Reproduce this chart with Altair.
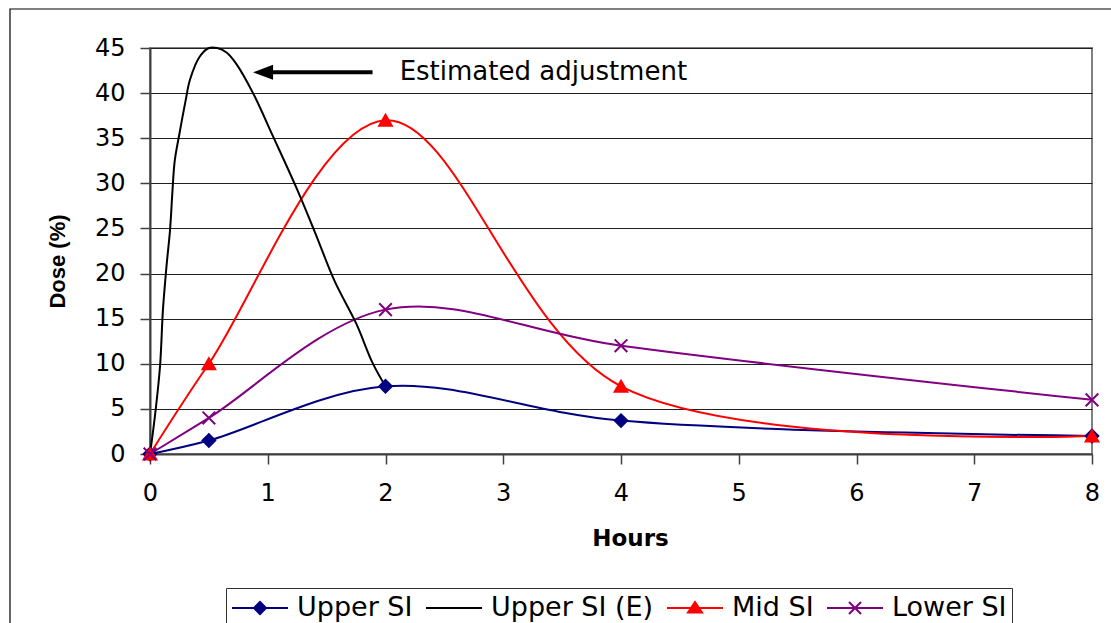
import altair as alt
import pandas as pd

# ---------------- data ----------------
hours = [0, 0.5, 2, 4, 8]
upper_si = [0, 1.5, 7.5, 3.7, 2.0]
mid_si = [0, 10, 37, 7.5, 2.0]
lower_si = [0, 4, 16, 12, 6]

est_hours = [0, 0.04, 0.085, 0.11, 0.14, 0.17, 0.19, 0.21, 0.25, 0.3, 0.34, 0.42,
             0.5, 0.57, 0.65, 0.73, 0.875, 1.045, 1.24, 1.4, 1.57, 1.75, 1.89, 2.0]
est_dose = [0, 4, 9.7, 16, 20.8, 24.8, 29, 32.5, 35.5, 39, 41.5, 44,
            45, 45, 44.5, 43.3, 40, 35.2, 29.6, 24.6, 19.1, 14.5, 10.1, 7.5]

series_names = ["Upper SI", "Upper SI (E)", "Mid SI", "Lower SI"]
series_colors = ["#000080", "#000000", "#FF0000", "#800080"]

marker_series = ["Upper SI", "Mid SI", "Lower SI"]
marker_colors = ["#000080", "#FF0000", "#800080"]
marker_shapes = ["diamond", "triangle-up", "M-1,-1L1,1M-1,1L1,-1"]

legend_shapes = [
    "M-1,0L3,0M0.57,0L1,-0.43L1.43,0L1,0.43Z",
    "M-1,0L3,0",
    "M-1,0L3,0M0.5,0.33L1,-0.43L1.5,0.33Z",
    "M-1,0L3,0M0.57,-0.43L1.43,0.43M0.57,0.43L1.43,-0.43",
]

x_ticks = [0, 1, 2, 3, 4, 5, 6, 7, 8]
y_ticks = [0, 5, 10, 15, 20, 25, 30, 35, 40, 45]

ann_text = ["Estimated adjustment"]
ann_arrow_from = [1.89]
ann_arrow_to = [0.96]
ann_y = [42.3]
ann_text_x = [2.12]

# ---------------- tables ----------------
rows = []
for name, vals in [("Upper SI", upper_si), ("Mid SI", mid_si), ("Lower SI", lower_si)]:
    for h, v in zip(hours, vals):
        rows.append({"series": name, "hours": h, "dose": v})
main_df = pd.DataFrame(rows)
est_df = pd.DataFrame({"series": "Upper SI (E)", "hours": est_hours, "dose": est_dose})
line_df = pd.concat([main_df, est_df], ignore_index=True)

ann_df = pd.DataFrame({"x": ann_arrow_from, "x2": ann_arrow_to, "y": ann_y,
                       "tx": ann_text_x, "label": ann_text})

FONT = "DejaVu Sans"

x_enc = alt.X("hours:Q",
              scale=alt.Scale(domain=[0, 8], nice=False, zero=False),
              axis=alt.Axis(values=x_ticks, title="Hours", grid=False, tickSize=10,
                            tickColor="#404040", tickWidth=1.5, domainColor="#404040",
                            domainWidth=2, labelFont=FONT, labelFontSize=24,
                            labelColor="#000", labelPadding=17, labelFlush=False,
                            labelOverlap=False, format="d",
                            titleFont=FONT, titleFontSize=23, titleFontWeight="bold",
                            titleColor="#000", titleX=480, titleY=84,
                            titleBaseline="middle", titleAlign="center"))
y_enc = alt.Y("dose:Q",
              scale=alt.Scale(domain=[0, 45], nice=False),
              axis=alt.Axis(values=y_ticks, title="Dose (%)", grid=True,
                            gridColor="#202020", gridWidth=1.2, tickSize=10,
                            tickColor="#404040", tickWidth=1.5, domainColor="#404040",
                            domainWidth=2, labelFont=FONT, labelFontSize=24,
                            labelColor="#000", labelPadding=15, labelOverlap=False,
                            titleFont="Liberation Sans", titleFontSize=22,
                            titleFontWeight="bold", titleColor="#000",
                            titleX=-93, titleY=213, titleAngle=270,
                            titleBaseline="middle", titleAlign="center"))

frame = alt.Chart(ann_df).mark_rect(fill="transparent", stroke="#000000",
                                    strokeWidth=1.2).encode(
    x=alt.value(-140), x2=alt.value(990), y=alt.value(-39), y2=alt.value(600))

lines = alt.Chart(line_df).mark_line(interpolate="catmull-rom", strokeWidth=2).encode(
    x=x_enc, y=y_enc,
    color=alt.Color("series:N", scale=alt.Scale(domain=series_names, range=series_colors),
                    legend=None))

points = alt.Chart(main_df).mark_point(size=160, strokeWidth=2, opacity=1).encode(
    x="hours:Q", y="dose:Q",
    shape=alt.Shape("series:N", scale=alt.Scale(domain=marker_series, range=marker_shapes),
                    legend=None),
    fill=alt.Fill("series:N", scale=alt.Scale(domain=marker_series, range=marker_colors),
                  legend=None),
    stroke=alt.Stroke("series:N", scale=alt.Scale(domain=marker_series, range=marker_colors),
                      legend=None))

leg = alt.Legend(title=None, orient="none", legendX=76, legendY=540, direction="horizontal",
                 symbolSize=784, symbolStrokeWidth=2, labelFont=FONT, labelFontSize=27,
                 labelColor="#000", labelOffset=36, labelLimit=400, columnPadding=9,
                 padding=5, strokeColor="#333333", fillColor="#ffffff")

legend_layer = alt.Chart(line_df).transform_filter("datum.hours < -1").mark_point(
    size=784, strokeWidth=2, opacity=1).encode(
    x="hours:Q", y="dose:Q",
    shape=alt.Shape("series:N", scale=alt.Scale(domain=series_names, range=legend_shapes),
                    legend=leg),
    fill=alt.Fill("series:N", scale=alt.Scale(domain=series_names, range=series_colors),
                  legend=leg),
    stroke=alt.Stroke("series:N", scale=alt.Scale(domain=series_names, range=series_colors),
                      legend=leg))

arrow_line = alt.Chart(ann_df).mark_rule(strokeWidth=4, color="#000").encode(
    x="x:Q", x2="x2:Q", y="y:Q")
arrow_head = alt.Chart(ann_df).mark_point(shape="M-1,0L1,-0.75L1,0.75Z", size=400,
                                          filled=True, color="#000", opacity=1).encode(
    x="x2:Q", y="y:Q")
label = alt.Chart(ann_df).mark_text(align="left", baseline="middle", font=FONT,
                                    fontSize=26, color="#000").encode(
    x="tx:Q", y="y:Q", text="label:N")

chart = alt.layer(frame, lines, points, legend_layer, arrow_line, arrow_head, label).resolve_scale(
    shape="independent", fill="independent", stroke="independent"
).properties(
    width=942, height=406,
    autosize=alt.AutoSizeParams(type="none"),
    padding={"left": 150, "top": 48, "right": 19, "bottom": 169},
    background="#ffffff",
).configure_view(stroke="#808080", strokeWidth=2)

chart.save("out.html", embed_options={"renderer": "svg", "actions": False})
